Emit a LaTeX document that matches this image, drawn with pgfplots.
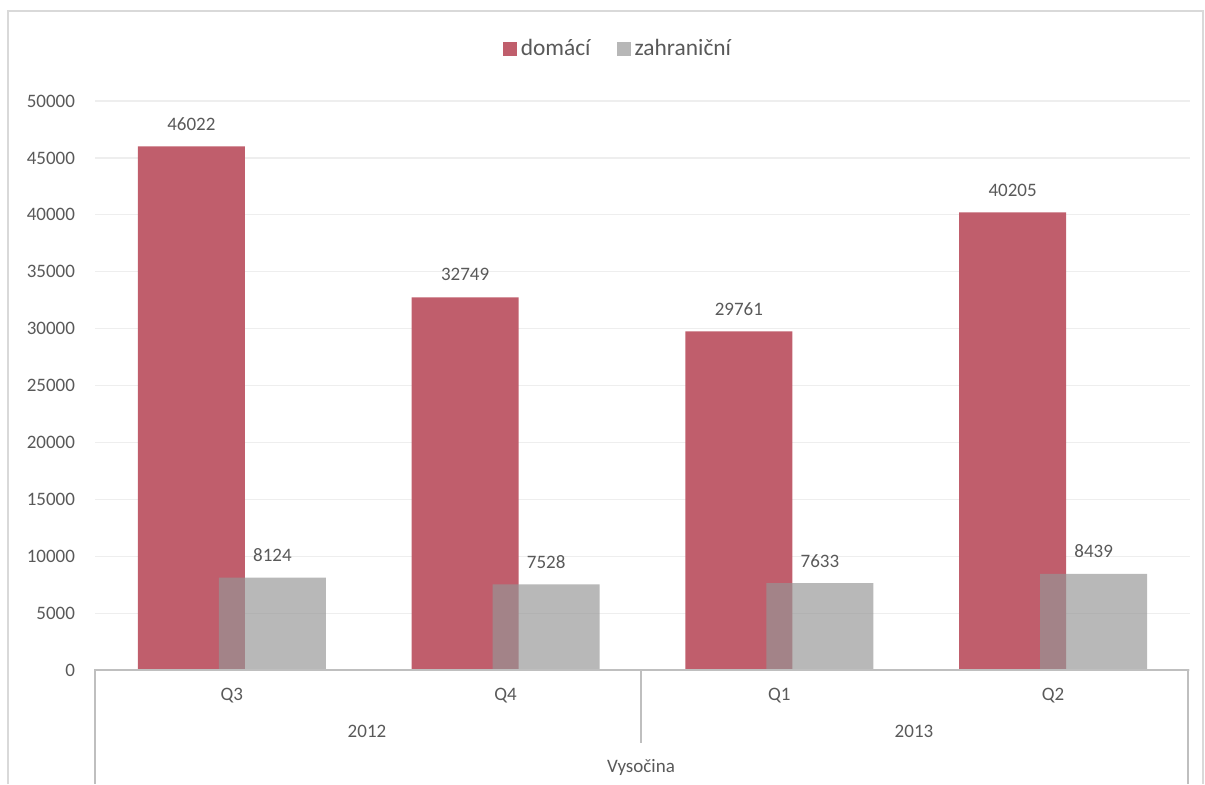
\documentclass[border=0pt]{standalone}
\usepackage{fontspec}
\setmainfont{Carlito}
\usepackage{pgfplots}
\pgfplotsset{compat=1.18}

\definecolor{barred}{RGB}{192,94,108}
\definecolor{bargray}{RGB}{150,150,150}
\definecolor{txt}{RGB}{89,89,89}
\definecolor{gridc}{RGB}{238,238,238}
\definecolor{axc}{RGB}{191,191,191}
\definecolor{framec}{RGB}{217,217,217}

\begin{document}
\begin{tikzpicture}
\path[use as bounding box] (0,0) rectangle (602.5pt,-392pt);
\begin{axis}[
    at={(47.5pt,-335pt)}, anchor=south west,
    scale only axis,
    width=547.5pt, height=284.5pt,
    xmin=-0.5, xmax=3.5,
    ymin=0, ymax=50000,
    ytick={0,5000,...,50000},
    xtick={0,1,2,3},
    xticklabels={Q3,Q4,Q1,Q2},
    scaled y ticks=false,
    /pgf/number format/1000 sep={},
    /pgf/number format/assume math mode=true,
    axis line style={draw=none},
    tick style={draw=none},
    major tick length=0pt,
    ymajorgrids,
    grid style={gridc, line width=0.6pt},
    ybar, bar width=53.5pt,
    ticklabel style={font=\fontsize{9.5}{11}\selectfont, text=txt},
    yticklabel style={anchor=east, xshift=-6.5pt},
    xticklabel style={anchor=center, yshift=-12.85pt},
    nodes near coords,
    every node near coord/.append style={font=\fontsize{9.5}{11}\selectfont,
        text=txt, anchor=center, yshift=11.25pt, fill opacity=1, text opacity=1},
    legend columns=2,
    legend style={at={(0.4785,1.0914)}, anchor=center, draw=none,
        font=\fontsize{11.7}{14}\selectfont, text=txt,
        /tikz/every even column/.append style={column sep=11pt}},
    legend image code/.code={\fill[#1] (0pt,-3.5pt) rectangle (7pt,3.5pt);},
]
% domaci
\addplot[fill=barred, draw=none, bar shift=-20.25pt] coordinates {
    (0,46022) (1,32749) (2,29761) (3,40205)
};
\addlegendentry{domácí}
% zahranicni
\addplot[fill=bargray, fill opacity=0.68, draw=none, bar shift=20.25pt] coordinates {
    (0,8124) (1,7528) (2,7633) (3,8439)
};
\addlegendentry{zahraniční}
\end{axis}

\begin{scope}[x=0.5pt, y=-0.5pt]
\draw[framec, line width=0.6pt] (8,784) -- (8,11) -- (1203,11) -- (1203,784);
\draw[axc, line width=1pt] (95,784) -- (95,670) -- (1188,670) -- (1188,784);
\draw[axc, line width=1pt] (641,670) -- (641,743);
\node[text=txt, font=\fontsize{9.5}{11}\selectfont] at (367,731) {2012};
\node[text=txt, font=\fontsize{9.5}{11}\selectfont] at (914,731) {2013};
\node[text=txt, font=\fontsize{9.5}{11}\selectfont] at (641,767) {Vysočina};
\end{scope}
\end{tikzpicture}
\end{document}
